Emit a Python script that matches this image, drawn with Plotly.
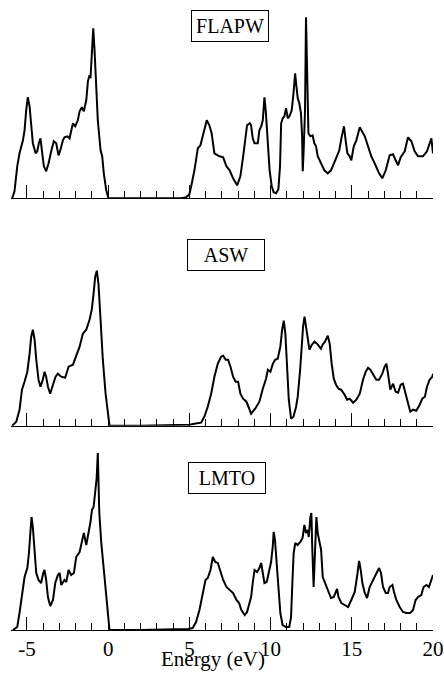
import plotly.graph_objects as go

# ---------------- data: (energy in eV, DOS in arbitrary units) ----------------
flapw_points = [
    (-5.91, 0), (-5.77, 7), (-5.6, 32), (-5.46, 45), (-5.25, 58), (-5.15, 68), (-5.05, 88),
    (-4.95, 101), (-4.84, 92), (-4.74, 72), (-4.64, 55), (-4.47, 45), (-4.37, 47), (-4.27, 55),
    (-4.17, 60), (-4.06, 45), (-3.96, 32), (-3.82, 27), (-3.67, 35), (-3.51, 47), (-3.35, 57),
    (-3.2, 55), (-3.06, 43), (-2.93, 49), (-2.79, 58), (-2.69, 61), (-2.52, 62), (-2.38, 60),
    (-2.17, 75), (-2.03, 72), (-1.87, 78), (-1.76, 87), (-1.62, 91), (-1.5, 87), (-1.35, 98),
    (-1.25, 117), (-1.15, 123), (-1.09, 120), (-1.01, 142), (-0.92, 170), (-0.84, 148),
    (-0.76, 112), (-0.64, 78), (-0.47, 48), (-0.37, 42), (-0.27, 25), (-0.12, 8), (0.02, 0),
    (2.0, 0), (4.49, 0), (4.8, 1), (5.0, 4), (5.15, 15), (5.31, 28), (5.52, 50), (5.68, 53),
    (5.82, 62), (5.97, 73), (6.07, 78), (6.23, 73), (6.37, 65), (6.54, 45), (6.85, 42),
    (7.08, 41), (7.28, 32), (7.48, 28), (7.69, 20), (7.94, 13), (8.14, 22), (8.31, 42),
    (8.41, 55), (8.55, 73), (8.72, 75), (8.8, 73), (8.9, 60), (9.01, 55), (9.21, 55), (9.31, 68),
    (9.42, 72), (9.52, 78), (9.58, 92), (9.62, 101), (9.7, 88), (9.78, 68), (9.86, 48),
    (9.94, 28), (10.07, 12), (10.19, 6), (10.34, 5), (10.48, 9), (10.58, 32), (10.65, 75),
    (10.75, 80), (10.85, 82), (10.95, 90), (11.06, 80), (11.16, 82), (11.3, 88), (11.41, 105),
    (11.51, 125), (11.59, 112), (11.67, 100), (11.77, 95), (11.87, 85), (11.94, 62), (11.98, 27),
    (12.04, 50), (12.12, 88), (12.18, 181), (12.27, 105), (12.33, 65), (12.45, 62), (12.59, 63),
    (12.69, 55), (12.8, 52), (12.9, 42), (13.11, 35), (13.31, 28), (13.52, 25), (13.72, 28),
    (14.03, 40), (14.23, 48), (14.36, 60), (14.52, 72), (14.62, 58), (14.73, 45), (14.87, 42),
    (14.97, 38), (15.12, 52), (15.28, 58), (15.49, 71), (15.65, 67), (15.8, 62), (16.0, 52),
    (16.2, 42), (16.41, 35), (16.68, 25), (16.88, 20), (17.09, 28), (17.33, 43), (17.54, 44),
    (17.7, 38), (17.85, 33), (18.01, 41), (18.26, 47), (18.46, 61), (18.67, 57), (18.87, 47),
    (19.08, 42), (19.38, 42), (19.63, 47), (19.9, 60), (20.0, 45),
]

asw_points = [
    (-5.91, 0), (-5.66, 4), (-5.46, 16), (-5.31, 36), (-5.15, 44), (-4.98, 54), (-4.84, 72),
    (-4.74, 89), (-4.64, 96), (-4.53, 86), (-4.43, 66), (-4.29, 46), (-4.17, 39), (-4.04, 45),
    (-3.92, 54), (-3.82, 49), (-3.71, 39), (-3.57, 32), (-3.4, 41), (-3.24, 49), (-3.1, 52),
    (-2.89, 49), (-2.65, 48), (-2.44, 59), (-2.17, 61), (-1.97, 69), (-1.76, 79), (-1.56, 92),
    (-1.35, 96), (-1.15, 106), (-1.01, 116), (-0.9, 132), (-0.8, 149), (-0.7, 155), (-0.6, 142),
    (-0.47, 106), (-0.33, 66), (-0.16, 32), (-0.02, 11), (0.08, 0), (2.0, 0), (4.99, 1),
    (5.3, 2), (5.72, 3), (5.92, 9), (6.13, 19), (6.34, 32), (6.54, 49), (6.75, 62), (6.95, 69),
    (7.08, 70), (7.24, 66), (7.38, 66), (7.53, 59), (7.69, 49), (7.85, 44), (8.0, 44),
    (8.14, 32), (8.31, 27), (8.51, 24), (8.68, 17), (8.8, 12), (9.05, 17), (9.31, 24),
    (9.52, 37), (9.72, 47), (9.83, 56), (9.99, 54), (10.14, 62), (10.28, 66), (10.44, 67),
    (10.6, 79), (10.71, 96), (10.81, 105), (10.91, 92), (11.01, 59), (11.12, 26), (11.26, 7),
    (11.41, 9), (11.57, 19), (11.67, 29), (11.82, 56), (11.92, 82), (12.0, 99), (12.09, 109),
    (12.19, 99), (12.29, 86), (12.39, 76), (12.54, 81), (12.7, 84), (12.86, 82), (13.0, 79),
    (13.1, 77), (13.2, 81), (13.35, 84), (13.52, 90), (13.64, 82), (13.76, 62), (13.89, 47),
    (14.03, 41), (14.18, 37), (14.34, 36), (14.56, 31), (14.71, 26), (14.87, 27), (15.08, 23),
    (15.28, 26), (15.49, 32), (15.69, 46), (15.86, 54), (16.0, 58), (16.14, 56), (16.31, 51),
    (16.51, 46), (16.68, 46), (16.88, 52), (17.02, 59), (17.13, 62), (17.23, 52), (17.37, 36),
    (17.54, 42), (17.7, 34), (17.85, 33), (18.01, 41), (18.15, 42), (18.31, 32), (18.46, 24),
    (18.6, 14), (18.77, 16), (18.97, 15), (19.18, 21), (19.34, 27), (19.5, 29), (19.63, 39),
    (19.79, 46), (19.96, 49), (20.0, 52),
]

lmto_points = [
    (-5.87, 0), (-5.6, 3), (-5.46, 17), (-5.31, 37), (-5.15, 53), (-4.98, 62), (-4.88, 77),
    (-4.78, 100), (-4.72, 113), (-4.64, 103), (-4.53, 80), (-4.43, 57), (-4.29, 50), (-4.13, 47),
    (-4.0, 57), (-3.92, 60), (-3.82, 50), (-3.71, 33), (-3.57, 24), (-3.4, 30), (-3.26, 47),
    (-3.1, 55), (-2.99, 57), (-2.89, 45), (-2.69, 50), (-2.58, 48), (-2.44, 60), (-2.28, 55),
    (-2.11, 57), (-1.97, 73), (-1.76, 78), (-1.62, 88), (-1.5, 97), (-1.35, 85), (-1.25, 93),
    (-1.09, 108), (-1.0, 120), (-0.9, 123), (-0.8, 138), (-0.71, 152), (-0.64, 177), (-0.55, 118),
    (-0.43, 88), (-0.27, 58), (-0.12, 38), (-0.02, 18), (0.08, 0), (2.0, 0), (4.9, 1), (5.2, 2),
    (5.41, 8), (5.62, 20), (5.83, 37), (5.99, 50), (6.13, 52), (6.3, 60), (6.44, 73), (6.59, 68),
    (6.75, 67), (6.91, 58), (7.08, 50), (7.28, 43), (7.48, 40), (7.69, 37), (7.9, 30), (8.06, 27),
    (8.2, 20), (8.41, 15), (8.55, 18), (8.72, 27), (8.8, 33), (8.9, 47), (9.01, 60), (9.17, 58),
    (9.31, 62), (9.42, 67), (9.52, 55), (9.62, 47), (9.76, 48), (9.88, 58), (10.03, 68),
    (10.13, 83), (10.19, 98), (10.27, 90), (10.38, 63), (10.48, 37), (10.6, 17), (10.74, 5),
    (10.95, 3), (11.15, 3), (11.26, 13), (11.34, 47), (11.42, 77), (11.52, 87), (11.66, 85),
    (11.83, 88), (11.97, 92), (12.08, 105), (12.18, 97), (12.28, 100), (12.35, 93), (12.45, 113),
    (12.51, 117), (12.57, 80), (12.65, 43), (12.74, 80), (12.82, 113), (12.9, 97), (13.0, 90),
    (13.11, 80), (13.21, 53), (13.35, 47), (13.52, 40), (13.72, 32), (13.89, 33), (14.03, 40),
    (14.09, 41), (14.18, 33), (14.36, 27), (14.56, 25), (14.77, 23), (14.97, 30), (15.18, 38),
    (15.32, 53), (15.45, 69), (15.55, 60), (15.65, 47), (15.8, 37), (15.94, 32), (16.1, 43),
    (16.31, 50), (16.51, 57), (16.68, 62), (16.8, 57), (16.92, 43), (17.09, 37), (17.23, 37),
    (17.33, 43), (17.5, 45), (17.6, 38), (17.74, 30), (17.95, 23), (18.15, 18), (18.36, 17),
    (18.6, 17), (18.77, 20), (18.93, 30), (19.08, 33), (19.28, 35), (19.42, 43), (19.59, 45),
    (19.75, 43), (19.9, 50), (20.0, 55),
]

panel_names = ["FLAPW", "ASW", "LMTO"]
major_ticks = [-5, 0, 5, 10, 15, 20]
major_labels = ["-5", "0", "5", "10", "15", "20"]
x_title = "Energy (eV)"

# ---------------- layout ----------------
W, H = 444, 674
FONT = "Liberation Serif, Times New Roman, serif"
x_dom = [10.75 / W, 433 / W]
baselines_px = [198.3, 425.7, 630]     # pixel rows of each panel's axis
panel_h_px = 190
label_pos_px = [(230, 26), (226, 255), (227, 478)]

fig = go.Figure()
series = [flapw_points, asw_points, lmto_points]
for i, pts in enumerate(series):
    e = [p[0] for p in pts]
    d = [p[1] for p in pts]
    n = "" if i == 0 else str(i + 1)
    fig.add_trace(go.Scatter(x=e, y=d, mode="lines", xaxis="x" + n, yaxis="y" + n,
                             line=dict(color="black", width=2), showlegend=False,
                             hoverinfo="skip"))
    base = 1 - baselines_px[i] / H
    top = base + panel_h_px / H
    xa = dict(domain=x_dom, range=[-6, 20], showline=True, linecolor="black", linewidth=1.3,
              ticks="inside", ticklen=13, tickwidth=1, tickcolor="black",
              tickmode="array", tickvals=major_ticks, ticktext=major_labels,
              minor=dict(ticks="inside", ticklen=7, tickwidth=1, tickcolor="black",
                         tickmode="linear", tick0=0, dtick=1, showgrid=False),
              showgrid=False, zeroline=False, showticklabels=(i == 2), automargin=False,
              tickfont=dict(family=FONT, size=21, color="black"), ticklabelstandoff=0)
    ya = dict(domain=[base, top], range=[0, panel_h_px], visible=False, showgrid=False,
              zeroline=False, automargin=False)
    if i > 0:
        xa["anchor"] = "y" + n
        ya["anchor"] = "x" + n
    fig.layout["xaxis" + n] = xa
    fig.layout["yaxis" + n] = ya
    lx, ly = label_pos_px[i]
    fig.add_annotation(text=panel_names[i], xref="paper", yref="paper", x=lx / W, y=1 - ly / H,
                       xanchor="center", yanchor="middle", showarrow=False,
                       font=dict(family=FONT, size=20, color="black"),
                       bordercolor="black", borderwidth=1, borderpad=4, bgcolor="white",
                       width=68, height=22)

fig.add_annotation(text=x_title, xref="paper", yref="paper", x=213 / W, y=1 - 659 / H,
                   xanchor="center", yanchor="middle", showarrow=False,
                   font=dict(family=FONT, size=21, color="black"))

fig.update_layout(width=W, height=H, margin=dict(l=0, r=0, t=0, b=0, autoexpand=False),
                  autosize=False, paper_bgcolor="white", plot_bgcolor="white")

fig.write_html("out.html", config={"responsive": False},
               post_script="document.body.style.margin='0';document.body.style.overflow='hidden';")
